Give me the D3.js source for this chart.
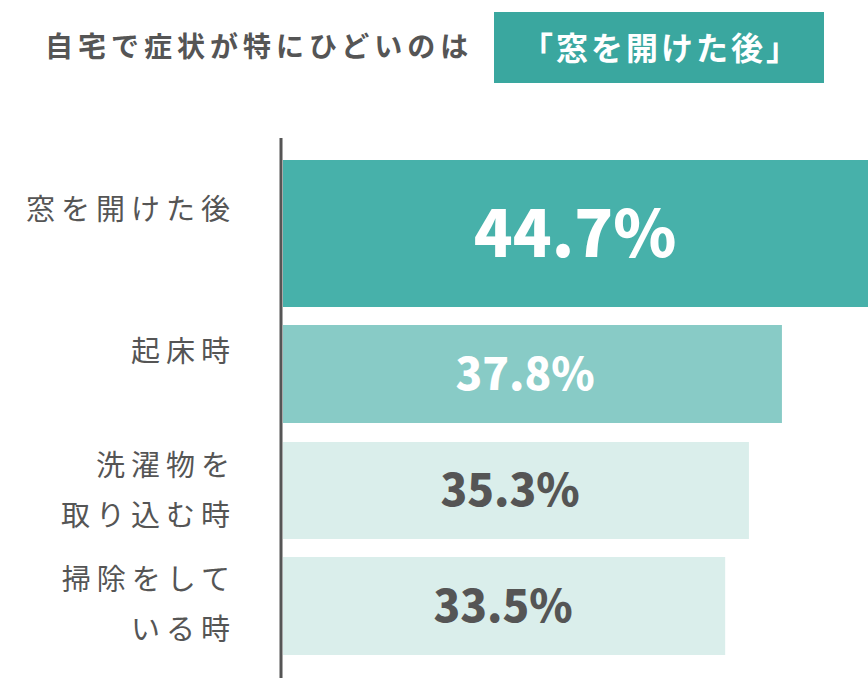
<!DOCTYPE html>
<html lang="ja">
<head>
<meta charset="UTF-8">
<script src="https://d3js.org/d3.v7.min.js"></script>
<style>
  body { margin: 0; background: #fff; }
  text { font-family: "Noto Sans CJK JP", "Noto Sans", sans-serif; }
</style>
</head>
<body>
<svg id="chart" width="868" height="678"></svg>
<script>
// data
const labels = [["窓を開けた後"], ["起床時"], ["洗濯物を", "取り込む時"], ["掃除をして", "いる時"]];
const values = [44.7, 37.8, 35.3, 33.5];
const barColors = ["#47b1aa", "#88cbc6", "#daeeeb", "#daeeeb"];
const valueColors = ["#fff", "#fff", "#555", "#555"];

const svg = d3.select("#chart");
const x0 = 283;

// title
svg.append("text").attr("x", 45).attr("y", 57)
  .attr("font-size", 28).attr("font-weight", 700).attr("fill", "#555")
  .attr("letter-spacing", 5)
  .text("自宅で症状が特にひどいのは");
svg.append("rect").attr("x", 494).attr("y", 12).attr("width", 330).attr("height", 71).attr("fill", "#3aa79f");
svg.append("text").attr("x", 661).attr("y", 60).attr("text-anchor", "middle")
  .attr("font-size", 32).attr("font-weight", 700).attr("fill", "#fff")
  .attr("letter-spacing", 3)
  .text("「窓を開けた後」");

const x = d3.scaleLinear().domain([0, 44.7]).range([0, 590]);
// bar bands (first bar is taller)
const bands = [[160, 307], [325, 423], [442, 539], [557, 655]];
const labelY = [210, 352, 491, 605];

const g = svg.selectAll(".bar").data(values).enter().append("g");
g.append("rect")
  .attr("x", x0)
  .attr("y", (d, i) => bands[i][0])
  .attr("width", d => x(d))
  .attr("height", (d, i) => bands[i][1] - bands[i][0])
  .attr("fill", (d, i) => barColors[i]);
g.append("text")
  .attr("x", (d, i) => [575, 525, 510, 503][i])
  .attr("y", (d, i) => (bands[i][0] + bands[i][1]) / 2)
  .attr("dy", "0.36em")
  .attr("text-anchor", "middle")
  .attr("font-family", "Roboto, sans-serif")
  .attr("font-weight", 900)
  .attr("font-size", (d, i) => i === 0 ? 64 : 44)
  .attr("fill", (d, i) => valueColors[i])
  .text(d => d.toFixed(1) + "%");

// category labels
labels.forEach((lines, i) => {
  const t = svg.append("text").attr("text-anchor", "end")
    .attr("font-size", 29).attr("fill", "#555").attr("letter-spacing", 6);
  lines.forEach((l, j) => {
    t.append("tspan").attr("x", 236)
      .attr("y", labelY[i] + (j - (lines.length - 1) / 2) * 50)
      .attr("dy", "0.36em").text(l);
  });
});

// axis line
svg.append("line").attr("x1", 281).attr("x2", 281).attr("y1", 138).attr("y2", 678)
  .attr("stroke", "#555").attr("stroke-width", 3);
</script>
</body>
</html>
